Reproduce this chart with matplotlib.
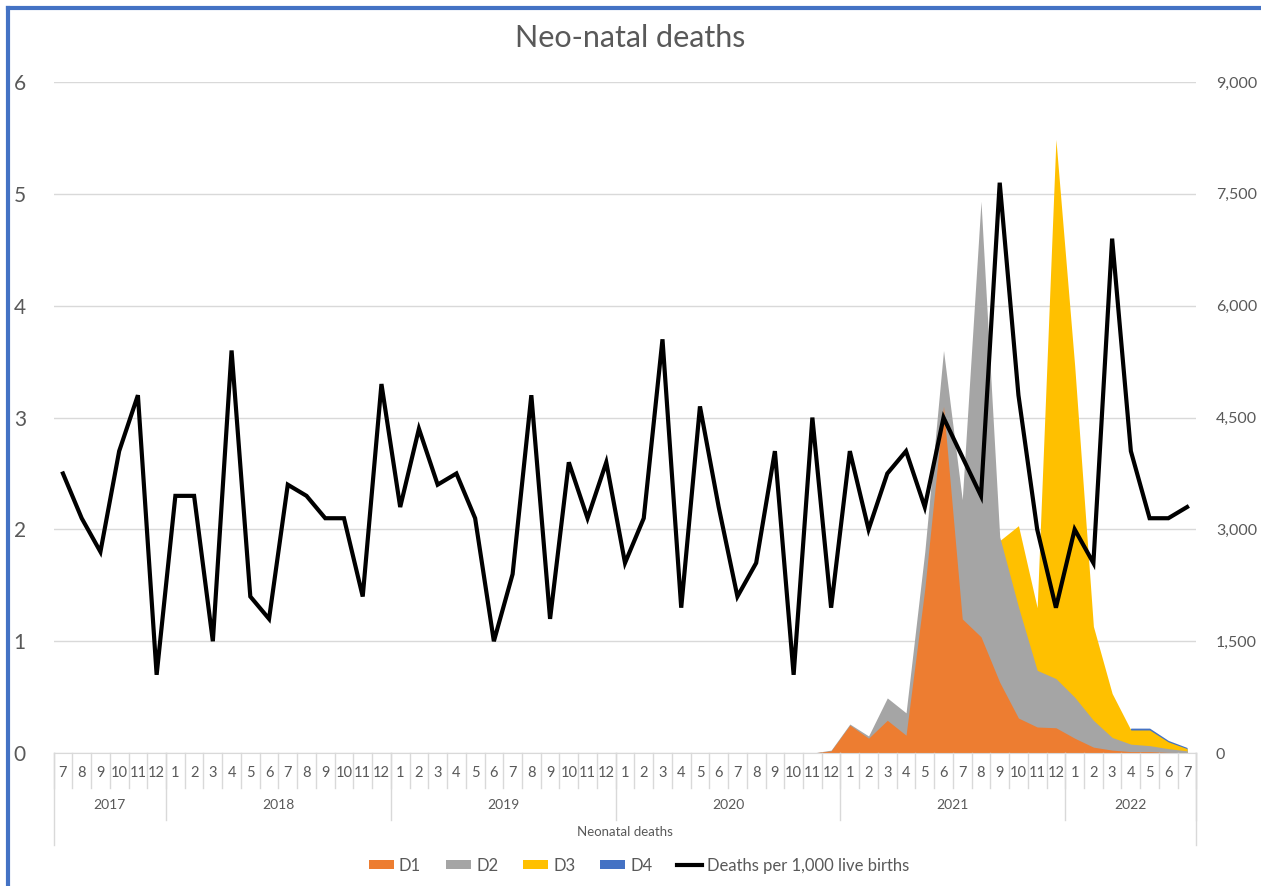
import numpy as np
import matplotlib.pyplot as plt
import matplotlib.transforms as mtransforms
from matplotlib.patches import Patch
from matplotlib.lines import Line2D

plt.rcParams['font.family'] = ['Lato', 'DejaVu Sans']

# monthly categories, Jul 2017 .. Jul 2022
years = ['2017', '2018', '2019', '2020', '2021', '2022']
year_months = [list(range(7, 13)), list(range(1, 13)), list(range(1, 13)),
               list(range(1, 13)), list(range(1, 13)), list(range(1, 8))]
month_labels = [str(m) for ms in year_months for m in ms]

# deaths per 1,000 live births (left axis)
rate = [2.5, 2.1, 1.8, 2.7, 3.2, 0.7,
        2.3, 2.3, 1.0, 3.6, 1.4, 1.2, 2.4, 2.3, 2.1, 2.1, 1.4, 3.3,
        2.2, 2.9, 2.4, 2.5, 2.1, 1.0, 1.6, 3.2, 1.2, 2.6, 2.1, 2.6,
        1.7, 2.1, 3.7, 1.3, 3.1, 2.2, 1.4, 1.7, 2.7, 0.7, 3.0, 1.3,
        2.7, 2.0, 2.5, 2.7, 2.2, 3.0, 2.65, 2.3, 5.1, 3.2, 2.0, 1.3,
        2.0, 1.7, 4.6, 2.7, 2.1, 2.1, 2.2]

# area series (right axis), Nov 2020 .. Jul 2022; nothing before
lead = [0] * 40
d1 = lead + [0, 30, 375, 200, 440, 240, 2200, 4650, 1800, 1560, 950, 470,
             350, 340, 200, 80, 40, 20, 20, 10, 5]
d2 = lead + [0, 40, 390, 230, 740, 540, 2700, 5400, 3400, 7400, 2900, 1960,
             1110, 1000, 750, 440, 210, 120, 100, 60, 30]
d3 = lead + [0, 0, 0, 0, 0, 0, 0, 0, 0, 0, 2850, 3050,
             1950, 8230, 5200, 1700, 800, 310, 310, 150, 60]
d4 = lead + [0, 0, 0, 0, 0, 0, 0, 0, 0, 0, 0, 0,
             0, 0, 0, 0, 0, 335, 335, 170, 75]

series = [('D1', d1, '#ED7D31'), ('D2', d2, '#A5A5A5'),
          ('D3', d3, '#FFC000'), ('D4', d4, '#4472C4')]
txt = '#595959'
grid_c = '#d9d9d9'

fig = plt.figure(figsize=(12.61, 8.86), dpi=100)
ax = fig.add_axes([0.0425, 0.150, 0.9063, 0.7574])
ax2 = ax.twinx()
x = np.arange(len(month_labels))

# areas behind, D1 in front of the others
for name, vals, col in reversed(series):
    ax2.fill_between(x, 0, vals, color=col, lw=0)
ax2.set_ylim(0, 9000)
ax2.set_yticks(np.arange(0, 9001, 1500))
ax2.set_yticklabels([f'{v:,}' for v in range(0, 9001, 1500)])
ax2.yaxis.grid(True, color=grid_c, lw=1)
ax2.set_axisbelow(True)

ax.plot(x, rate, color='black', lw=3, solid_joinstyle='miter')
ax.set_ylim(0, 6)
ax.set_yticks(range(7))
ax.set_xlim(-0.5, len(x) - 0.5)
ax.set_xticks([])
ax.set_zorder(ax2.get_zorder() + 1)
ax.patch.set_visible(False)

for a in (ax, ax2):
    for s in a.spines.values():
        s.set_visible(False)
    a.tick_params(length=0, colors=txt)
ax.spines['bottom'].set_visible(True)
ax.spines['bottom'].set_color(grid_c)
ax.tick_params(axis='y', labelsize=15, pad=20)
ax2.tick_params(axis='y', labelsize=11.5, pad=14)

# two-level category axis
tr = mtransforms.blended_transform_factory(ax.transData, ax.transAxes)
for i, lab in enumerate(month_labels):
    ax.text(i, -0.029, lab, transform=tr, ha='center', va='center',
            fontsize=10.5, color=txt)
for k in range(len(x) + 1):
    ax.plot([k - 0.5, k - 0.5], [0, -0.052], transform=tr, color=grid_c,
            lw=1, clip_on=False)
start = -0.5
for yr, ms in zip(years, year_months):
    end = start + len(ms)
    ax.text((start + end) / 2, -0.077, yr, transform=tr, ha='center',
            va='center', fontsize=10, color=txt)
    ax.plot([end, end], [0, -0.100], transform=tr, color=grid_c, lw=1,
            clip_on=False)
    start = end
for edge in (-0.5, len(x) - 0.5):
    ax.plot([edge, edge], [0, -0.137], transform=tr, color=grid_c, lw=1,
            clip_on=False)
ax.text(0.5, -0.118, 'Neonatal deaths', transform=ax.transAxes, ha='center',
        va='center', fontsize=9.5, color=txt)

fig.text(0.5, 1 - 38 / 886, 'Neo-natal deaths', ha='center', va='center',
         fontsize=22, color=txt)

handles = [Patch(facecolor=c, label=n) for n, _, c in series]
handles.append(Line2D([], [], color='black', lw=3,
                      label='Deaths per 1,000 live births'))
fig.legend(handles=handles, loc='center', bbox_to_anchor=(0.507, 0.023),
           ncol=5, frameon=False, fontsize=12, handlelength=1.5,
           handleheight=0.5, handletextpad=0.3, columnspacing=1.5,
           labelcolor=txt)

# frame border
blue = '#4472C4'
fig.add_artist(Line2D([0.0065, 0.0065], [0, 0.991], transform=fig.transFigure,
                      color=blue, lw=3))
fig.add_artist(Line2D([0.0065, 1], [0.991, 0.991], transform=fig.transFigure,
                      color=blue, lw=3))

fig.savefig('out.png', dpi=100, facecolor='white')
